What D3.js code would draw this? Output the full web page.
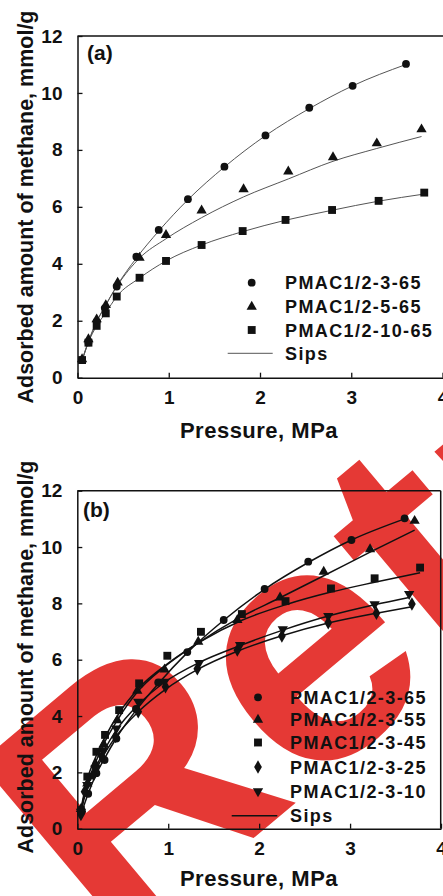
<!DOCTYPE html>
<html><head><meta charset="utf-8">
<script src="https://d3js.org/d3.v7.min.js"></script>
<style>
html,body{margin:0;padding:0;background:#fff;}
svg{display:block;}
text{font-family:"Liberation Sans",Arial,sans-serif;font-weight:bold;fill:#111;}
</style></head><body>
<script>
// ---------- data ----------
const xTicks = [0,1,2,3,4];
const yTicks = [0,2,4,6,8,10,12];
const xTitle = "Pressure, MPa";
const yTitle = "Adsorbed amount of methane, mmol/g";

// panel (a)
const a365x = [0.05,0.12,0.21,0.30,0.43,0.645,0.89,1.21,1.61,2.06,2.54,3.015,3.60];
const a365y = [0.62,1.24,1.97,2.44,3.20,4.25,5.19,6.27,7.41,8.51,9.48,10.25,11.02];
const a365fit = [0.60,1.25,1.95,2.50,3.22,4.20,5.15,6.25,7.40,8.50,9.45,10.25,11.00];
const a565x = [0.05,0.12,0.21,0.31,0.44,0.68,0.97,1.36,1.82,2.31,2.80,3.28,3.77];
const a565y = [0.65,1.35,2.05,2.55,3.34,4.21,5.01,5.87,6.62,7.24,7.74,8.23,8.72];
const a565fit = [0.62,1.28,1.98,2.55,3.25,4.20,4.88,5.62,6.35,6.98,7.60,8.05,8.47];
const a1065x = [0.05,0.12,0.21,0.31,0.43,0.68,0.97,1.36,1.81,2.28,2.79,3.30,3.80];
const a1065y = [0.62,1.23,1.82,2.26,2.85,3.51,4.10,4.66,5.15,5.54,5.89,6.21,6.50];
const a1065fit = [0.60,1.25,1.82,2.28,2.85,3.50,4.10,4.66,5.13,5.53,5.88,6.20,6.45];
const aNames = ["PMAC1/2-3-65","PMAC1/2-5-65","PMAC1/2-10-65"];

// panel (b)
const b65x = a365x, b65y = a365y, b65fit = a365fit;
const b55x = [0.04,0.11,0.20,0.29,0.44,0.66,0.96,1.33,1.76,2.23,2.71,3.22,3.71];
const b55y = [0.70,1.60,2.30,3.00,3.85,4.90,5.65,6.64,7.41,8.21,9.12,9.92,10.93];
const b55fit = [0.68,1.58,2.35,3.00,3.85,4.85,5.75,6.60,7.45,8.20,8.98,9.82,10.60];
const b45x = [0.04,0.11,0.21,0.305,0.46,0.68,0.99,1.36,1.81,2.29,2.79,3.27,3.77];
const b45y = [0.66,1.85,2.73,3.33,4.21,5.16,6.14,6.99,7.62,8.08,8.53,8.89,9.27];
const b45fit = [0.70,1.75,2.60,3.25,4.10,5.00,5.85,6.65,7.40,7.95,8.40,8.75,9.09];
const b25x = [0.04,0.08,0.18,0.27,0.42,0.67,0.97,1.32,1.76,2.25,2.76,3.29,3.68];
const b25y = [0.50,1.31,1.91,2.56,3.27,4.15,5.04,5.68,6.34,6.84,7.31,7.65,7.98];
const b25fit = [0.52,1.25,1.92,2.50,3.25,4.15,4.95,5.65,6.30,6.85,7.30,7.65,7.88];
const b10x = [0.04,0.11,0.20,0.29,0.43,0.67,0.96,1.34,1.79,2.26,2.76,3.27,3.65];
const b10y = [0.60,1.55,2.14,2.79,3.56,4.51,5.22,5.88,6.52,7.08,7.55,7.97,8.33];
const b10fit = [0.60,1.50,2.15,2.75,3.50,4.40,5.20,5.90,6.50,7.05,7.55,7.95,8.21];
const bNames = ["PMAC1/2-3-65","PMAC1/2-3-55","PMAC1/2-3-45","PMAC1/2-3-25","PMAC1/2-3-10"];
const fitName = "Sips";
const watermark = "Retracted";

// ---------- drawing ----------
const W = 443, H = 896;
const svg = d3.select("body").append("svg").attr("width", W).attr("height", H);

// watermark (under the chart)
svg.append("text").text(watermark)
  .attr("transform", "translate(113,956) rotate(-40)")
  .style("font-size", "340px").style("fill", "#e53935");

const sym = {
  circle: d3.symbol().type(d3.symbolCircle).size(48),
  triangle: d3.symbol().type(d3.symbolTriangle).size(46),
  square: d3.symbol().type(d3.symbolSquare).size(62),
  diamond: d3.symbol().type(d3.symbolDiamond).size(52),
  down: d3.symbol().type(d3.symbolTriangle).size(46)
};

function panel(cfg) {
  const g = svg.append("g");
  const x = d3.scaleLinear().domain([0,4]).range([cfg.left, cfg.right]);
  const y = d3.scaleLinear().domain([0,12]).range([cfg.bottom, cfg.top]);

  // frame
  g.append("line").attr("x1", cfg.left).attr("x2", cfg.frameRight).attr("y1", cfg.top).attr("y2", cfg.top)
    .attr("stroke", "#111").attr("stroke-width", 1.5);
  g.append("line").attr("x1", cfg.frameRight).attr("x2", cfg.frameRight).attr("y1", cfg.top).attr("y2", cfg.bottom)
    .attr("stroke", "#111").attr("stroke-width", 1.5);

  const xAxis = g.append("g").attr("transform", `translate(0,${cfg.bottom})`)
    .call(d3.axisBottom(x).tickValues(xTicks).tickFormat(d3.format("d")).tickSizeInner(-5).tickSizeOuter(0).tickPadding(13));
  const yAxis = g.append("g").attr("transform", `translate(${cfg.left},0)`)
    .call(d3.axisLeft(y).tickValues(yTicks).tickFormat(d3.format("d")).tickSizeInner(-5).tickSizeOuter(0).tickPadding(15));
  [xAxis, yAxis].forEach(ax => {
    ax.select(".domain").attr("stroke", "#111").attr("stroke-width", 1.5);
    ax.selectAll(".tick line").attr("stroke", "#111").attr("stroke-width", 1.3);
    ax.selectAll(".tick text").style("font-size", "19px").style("font-family", '"Liberation Sans",Arial,sans-serif')
      .style("font-weight", "bold").attr("fill", "#111");
  });
  xAxis.selectAll(".tick text").attr("dy", "0.71em");

  // titles
  g.append("text").text(xTitle).attr("x", 259).attr("y", cfg.xTitleY)
    .attr("text-anchor", "middle").style("font-size", "22px").style("letter-spacing", "0.5px");
  g.append("text").text(yTitle)
    .attr("transform", `translate(33,${cfg.yTitleMid}) rotate(-90)`)
    .attr("text-anchor", "middle").style("font-size", "21.5px");
  g.append("text").text(cfg.label).attr("x", cfg.labelX).attr("y", cfg.labelY).style("font-size", "21px");

  // fit lines
  const line = d3.line().x(d => x(d[0])).y(d => y(d[1])).curve(d3.curveMonotoneX);
  cfg.series.forEach(s => {
    g.append("path").datum(d3.zip(s.x, s.fit)).attr("d", line)
      .attr("fill", "none").attr("stroke", cfg.lineColor).attr("stroke-width", cfg.lineWidth);
  });
  // markers
  cfg.series.forEach(s => {
    g.selectAll(null).data(d3.zip(s.x, s.y)).join("path")
      .attr("d", sym[s.shape]())
      .attr("transform", d => `translate(${x(d[0])},${y(d[1])})${s.shape === "down" ? " rotate(180)" : ""}`)
      .attr("fill", "#111");
  });

  // legend
  const lg = g.append("g");
  cfg.series.forEach((s, i) => {
    const yy = cfg.legRows[i];
    lg.append("path").attr("d", sym[s.shape]())
      .attr("transform", `translate(${cfg.legMarkX},${yy})${s.shape === "down" ? " rotate(180)" : ""}`)
      .attr("fill", "#111");
    lg.append("text").text(s.name).attr("x", cfg.legTextX).attr("y", yy + 6.5)
      .style("font-size", "18px").style("letter-spacing", "1.4px");
  });
  const sy = cfg.legRows[cfg.series.length];
  lg.append("line").attr("x1", cfg.sipsX[0]).attr("x2", cfg.sipsX[1]).attr("y1", sy).attr("y2", sy)
    .attr("stroke", cfg.lineColor).attr("stroke-width", cfg.lineWidth);
  lg.append("text").text(fitName).attr("x", cfg.legTextX).attr("y", sy + 6.5)
    .style("font-size", "18px").style("letter-spacing", "1.4px");
}

panel({
  left: 77.5, right: 442.5, frameRight: 444, top: 36, bottom: 377.7,
  xTitleY: 438, yTitleMid: 207, label: "(a)", labelX: 87, labelY: 60,
  lineColor: "#555", lineWidth: 1,
  legMarkX: 251.7, legTextX: 285, legRows: [282.7, 306.7, 330, 353.3], sipsX: [227.7, 272.7],
  series: [
    {name: aNames[0], x: a365x, y: a365y, fit: a365fit, shape: "circle"},
    {name: aNames[1], x: a565x, y: a565y, fit: a565fit, shape: "triangle"},
    {name: aNames[2], x: a1065x, y: a1065y, fit: a1065fit, shape: "square"}
  ]
});

panel({
  left: 77.3, right: 441, frameRight: 440.7, top: 490.7, bottom: 828.7,
  xTitleY: 886, yTitleMid: 657, label: "(b)", labelX: 83, labelY: 517,
  lineColor: "#111", lineWidth: 1.5,
  legMarkX: 258, legTextX: 290, legRows: [697.3, 719.7, 742.5, 767, 791.3, 815.7], sipsX: [231.7, 277.3],
  series: [
    {name: bNames[0], x: b65x, y: b65y, fit: b65fit, shape: "circle"},
    {name: bNames[1], x: b55x, y: b55y, fit: b55fit, shape: "triangle"},
    {name: bNames[2], x: b45x, y: b45y, fit: b45fit, shape: "square"},
    {name: bNames[3], x: b25x, y: b25y, fit: b25fit, shape: "diamond"},
    {name: bNames[4], x: b10x, y: b10y, fit: b10fit, shape: "down"}
  ]
});
</script>
</body></html>
